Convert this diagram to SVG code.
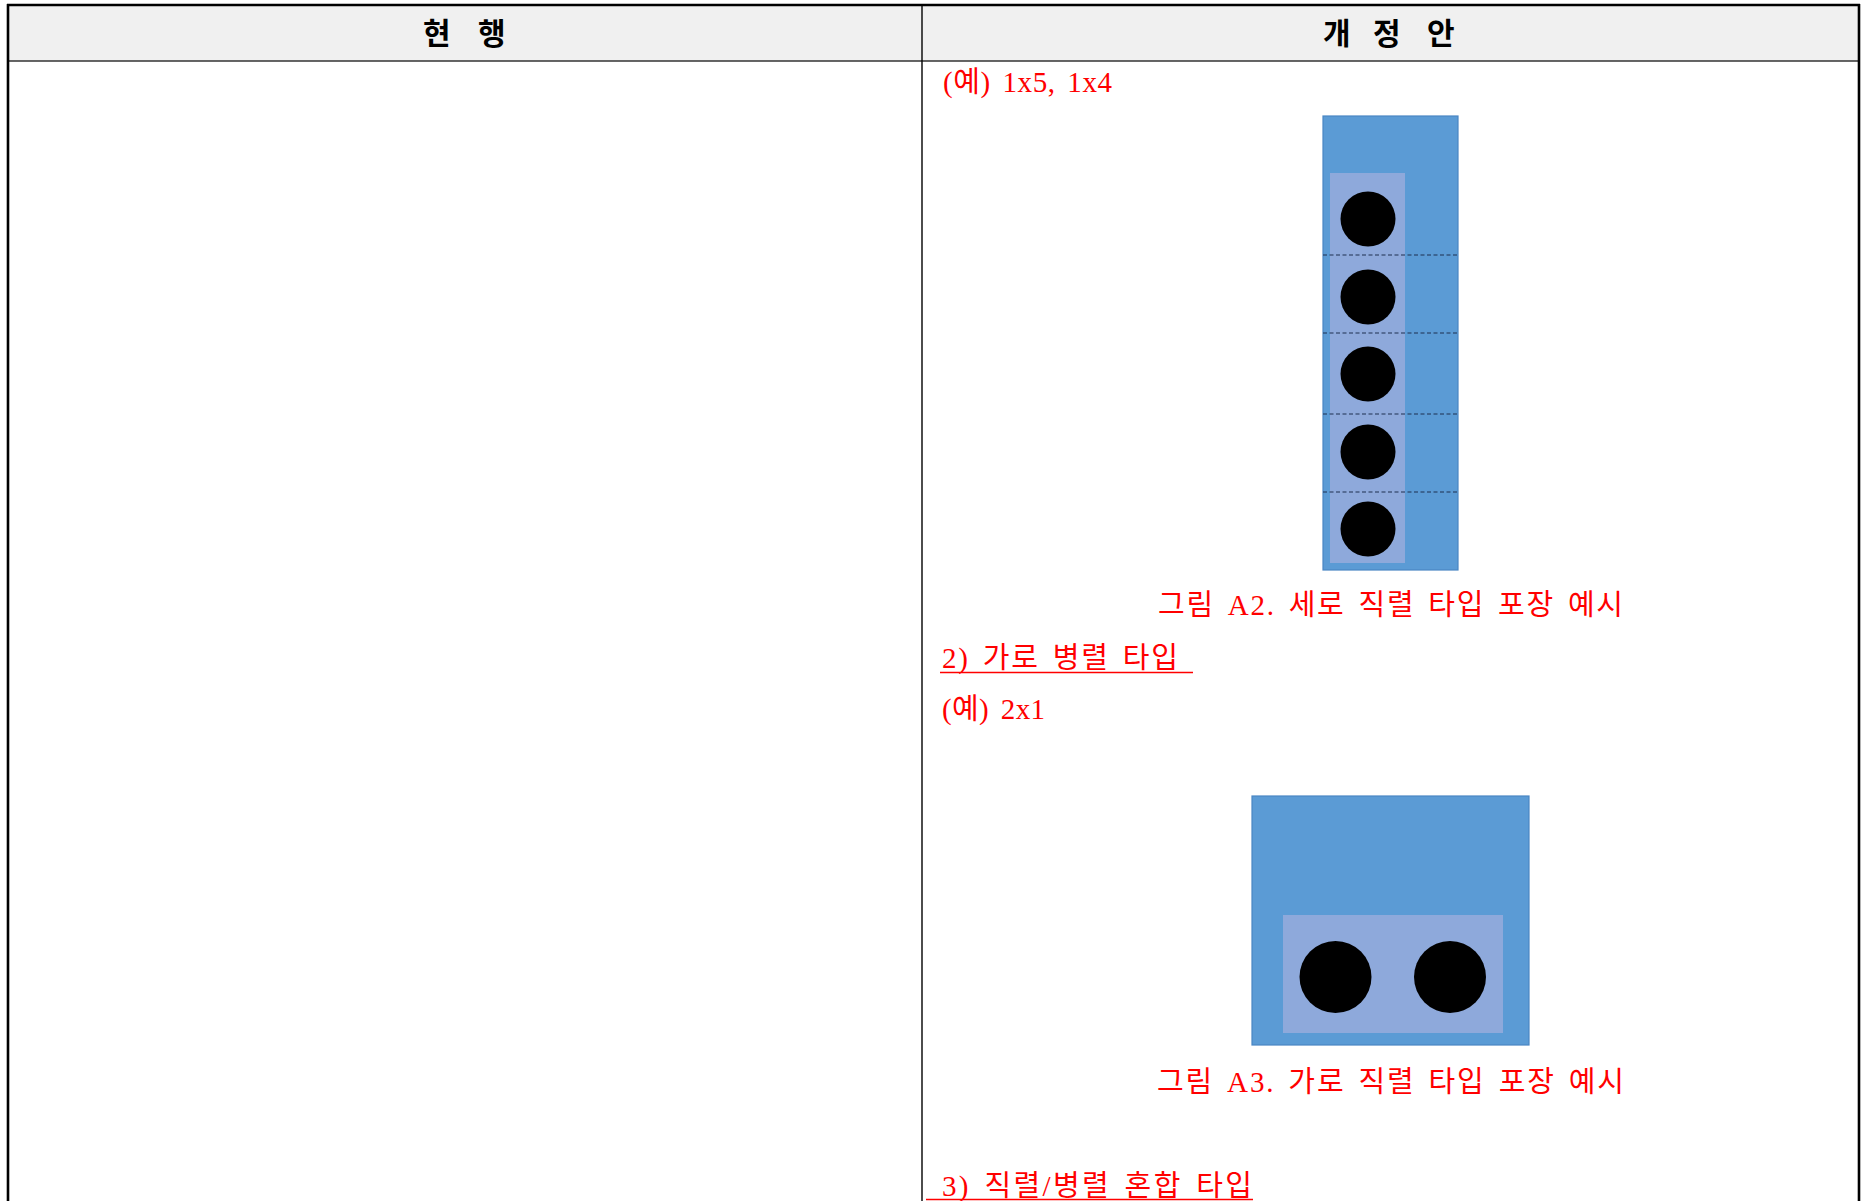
<svg xmlns="http://www.w3.org/2000/svg" width="1862" height="1201" viewBox="0 0 1862 1201">
<style>
.hdr{font-family:"Noto Sans CJK KR","Noto Sans",sans-serif;font-weight:bold;font-size:30px;fill:#000}
.red{font-family:"Liberation Serif","Noto Sans CJK KR",serif;font-size:29px;fill:#FF0000;word-spacing:4px}
.outer{fill:#5B9BD5;stroke:#4A86C4;stroke-width:1.2}
.inner{fill:#8EA9DB}
.dash{stroke:#1F3050;stroke-width:1.2;stroke-dasharray:4 2.5}
.ul{stroke:#FF0000;stroke-width:1.6}
</style>
<rect width="1862" height="1201" fill="#fff"/>
<g id="table">
<rect x="8" y="5" width="1851" height="56" fill="#F0F0F0"/>
<line x1="8" y1="61" x2="1859" y2="61" stroke="#333" stroke-width="1.4"/>
<line x1="7" y1="5" x2="1860" y2="5" stroke="#000" stroke-width="2.6"/>
<line x1="8" y1="4" x2="8" y2="1201" stroke="#000" stroke-width="2.6"/>
<line x1="1859" y1="4" x2="1859" y2="1201" stroke="#000" stroke-width="2.6"/>
<line x1="922" y1="5" x2="922" y2="1201" stroke="#000" stroke-width="1.4"/>
<text class="hdr" x="423 451 478" y="44">현 행</text>
<text class="hdr" x="1323 1351 1373 1401 1427" y="44">개 정 안</text>
</g>
<g id="text-ex1"><text class="red" x="943" y="92" textLength="169" lengthAdjust="spacing">(예) 1x5, 1x4</text></g>
<g id="fig-a2">
<rect class="outer" x="1323" y="116" width="135" height="454"/>
<rect class="inner" x="1330" y="173" width="75" height="390"/>
<line class="dash" x1="1323" y1="255" x2="1458" y2="255"/>
<line class="dash" x1="1323" y1="333" x2="1458" y2="333"/>
<line class="dash" x1="1323" y1="414" x2="1458" y2="414"/>
<line class="dash" x1="1323" y1="492" x2="1458" y2="492"/>
<circle cx="1368" cy="219" r="27.5"/>
<circle cx="1368" cy="297" r="27.5"/>
<circle cx="1368" cy="374" r="27.5"/>
<circle cx="1368" cy="452" r="27.5"/>
<circle cx="1368" cy="529" r="27.5"/>
</g>
<g id="caption-a2"><text class="red" x="1158" y="615" textLength="465" lengthAdjust="spacing">그림 A2. 세로 직렬 타입 포장 예시</text></g>
<g id="heading-2">
<text class="red" x="942" y="668" textLength="236" lengthAdjust="spacing">2) 가로 병렬 타입</text>
<line class="ul" x1="940" y1="672.5" x2="1193" y2="672.5"/>
</g>
<g id="text-ex2"><text class="red" x="942" y="719" textLength="103" lengthAdjust="spacing">(예) 2x1</text></g>
<g id="fig-a3">
<rect class="outer" x="1252" y="796" width="277" height="249"/>
<rect class="inner" x="1283" y="915" width="220" height="118"/>
<circle cx="1335.5" cy="977" r="36"/>
<circle cx="1450" cy="977" r="36"/>
</g>
<g id="caption-a3"><text class="red" x="1157" y="1092" textLength="467" lengthAdjust="spacing">그림 A3. 가로 직렬 타입 포장 예시</text></g>
<g id="heading-3">
<text class="red" x="942" y="1196" textLength="310" lengthAdjust="spacing">3) 직렬/병렬 혼합 타입</text>
<line class="ul" x1="926" y1="1199.5" x2="1253" y2="1199.5"/>
</g>
</svg>
